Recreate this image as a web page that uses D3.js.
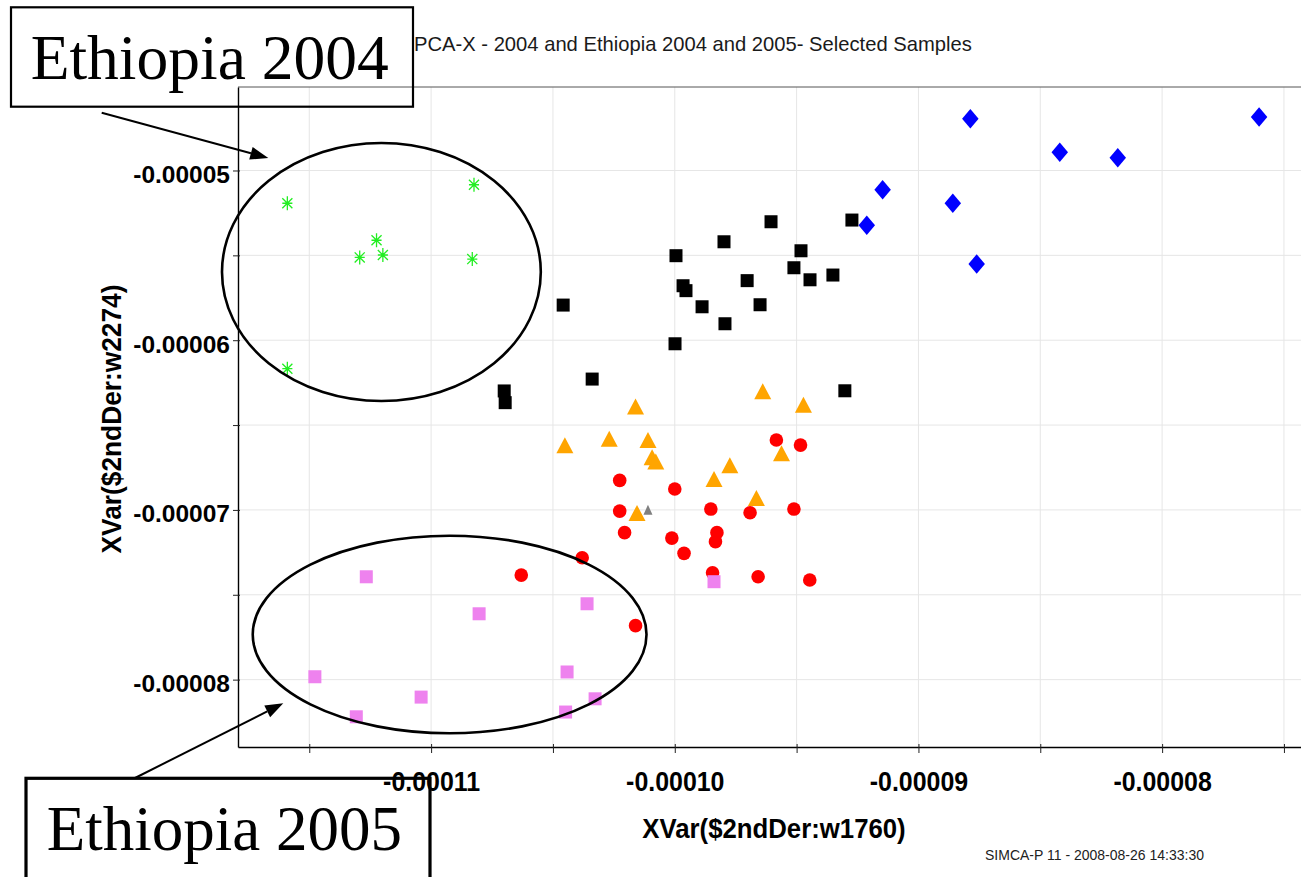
<!DOCTYPE html>
<html>
<head>
<meta charset="utf-8">
<script src="https://cdn.jsdelivr.net/npm/d3@7/dist/d3.min.js"></script>
<style>
  html, body { margin: 0; padding: 0; background: #fff; }
  svg { display: block; }
</style>
</head>
<body>
<svg id="chart" width="1301" height="877"></svg>
<script>
// ---- Sample scores: XVar($2ndDer:w1760) vs XVar($2ndDer:w2274) ----
// Ethiopia 2004 samples (green asterisks)
const eth2004X = [-0.00011590, -0.00010824, -0.00011224, -0.00011293, -0.00011198, -0.00010831, -0.00011590];
const eth2004Y = [-0.00005193, -0.00005084, -0.00005411, -0.00005512, -0.00005498, -0.00005522, -0.00006168];

// Ethiopia 2005 samples (violet squares)
const eth2005X = [-0.00011266, -0.00010803, -0.00010360, -0.00011477, -0.00011041, -0.00011307, -0.00010442, -0.00010327, -0.00010448, -0.00009839];
const eth2005Y = [-0.00007394, -0.00007612, -0.00007553, -0.00007983, -0.00008103, -0.00008219, -0.00007955, -0.00008113, -0.00008191, -0.00007423];

// Black square group
const squareGroupX = [-0.00010700, -0.00010696, -0.00010458, -0.00010339, -0.00009995, -0.00009798, -0.00009605, -0.00009273, -0.00009482, -0.00009511,
                      -0.00009445, -0.00009351, -0.00009703, -0.00009966, -0.00009954, -0.00009888, -0.00009650, -0.00009794, -0.00009999, -0.00009302];
const squareGroupY = [-0.00006299, -0.00006368, -0.00005793, -0.00006229, -0.00005502, -0.00005420, -0.00005302, -0.00005292, -0.00005473, -0.00005573,
                      -0.00005644, -0.00005616, -0.00005649, -0.00005679, -0.00005708, -0.00005803, -0.00005791, -0.00005903, -0.00006021, -0.00006298];

// Blue diamond group
const diamondGroupX = [-0.00008787, -0.00007602, -0.00008420, -0.00008182, -0.00009147, -0.00008859, -0.00009212, -0.00008761];
const diamondGroupY = [-0.00004695, -0.00004685, -0.00004893, -0.00004925, -0.00005113, -0.00005193, -0.00005323, -0.00005551];

// Orange triangle group
const triangleGroupX = [-0.00009639, -0.00009472, -0.00010161, -0.00010451, -0.00010269, -0.00010110, -0.00010093, -0.00010078, -0.00009562, -0.00009774,
                        -0.00009839, -0.00009665, -0.00010155];
const triangleGroupY = [-0.00006301, -0.00006380, -0.00006390, -0.00006619, -0.00006580, -0.00006588, -0.00006690, -0.00006714, -0.00006666, -0.00006737,
                        -0.00006818, -0.00006930, -0.00007018];

// Red circle group
const circleGroupX = [-0.00009583, -0.00009484, -0.00010226, -0.00010000, -0.00010226, -0.00009852, -0.00009691, -0.00009511, -0.00010206, -0.00010012,
                      -0.00009827, -0.00009833, -0.00009962, -0.00010380, -0.00010630, -0.00009845, -0.00009658, -0.00009446, -0.00010161];
const circleGroupY = [-0.00006588, -0.00006618, -0.00006826, -0.00006877, -0.00007007, -0.00006995, -0.00007017, -0.00006995, -0.00007134, -0.00007166,
                      -0.00007134, -0.00007187, -0.00007256, -0.00007282, -0.00007384, -0.00007370, -0.00007394, -0.00007413, -0.00007682];

// Single grey triangle
const greyPointX = [-0.00010110];
const greyPointY = [-0.00006999];

// Axis extents and labelled ticks
const xExtent = [-0.000117925, -0.0000743];
const yExtent = [-0.00008397, -0.00004508];
const xTickValues = [-0.00011, -0.00010, -0.00009, -0.00008];
const xTickLabels = ["-0.00011", "-0.00010", "-0.00009", "-0.00008"];
const yTickValues = [-0.00005, -0.00006, -0.00007, -0.00008];
const yTickLabels = ["-0.00005", "-0.00006", "-0.00007", "-0.00008"];
const gridStep = 0.000005;

// Group outlines (centre and half-axes in data units)
const outlines = [
  { cx: -0.00011204, cy: -0.00005598, rx: 0.000006542, ry: 0.000007602 },
  { cx: -0.00010924, cy: -0.00007734, rx: 0.000008080, ry: 0.000005822 }
];

// ---- Layout ----
const svg = d3.select("#chart");
const plot = { left: 238, top: 87, right: 1301, bottom: 747 };
const sans = "'Liberation Sans', Arial, Helvetica, sans-serif";
const serif = "'Liberation Serif', 'Times New Roman', serif";

const x = d3.scaleLinear().domain(xExtent).range([plot.left, plot.right]);
const y = d3.scaleLinear().domain(yExtent).range([plot.bottom, plot.top]);

const stepTicks = ext => d3.range(Math.ceil(ext[0] / gridStep - 1e-9), Math.floor(ext[1] / gridStep + 1e-9) + 1).map(k => k * gridStep);
const xGrid = stepTicks(xExtent);
const yGrid = stepTicks(yExtent);
const labelFor = (vals, labels) => d => {
  const i = vals.findIndex(v => Math.abs(v - d) < 1e-10);
  return i >= 0 ? labels[i] : "";
};

svg.append("rect").attr("width", 1301).attr("height", 877).attr("fill", "#fff");

// Title
svg.append("text")
  .attr("x", 414).attr("y", 51)
  .attr("font-family", sans).attr("font-size", 20.2).attr("fill", "#1a1a1a")
  .text("PCA-X - 2004 and Ethiopia 2004 and 2005- Selected Samples");

// Grid
const grid = svg.append("g").attr("stroke", "#e6e6e6").attr("stroke-width", 1);
grid.selectAll("line.v").data(xGrid).join("line").attr("class", "v")
  .attr("x1", d => x(d)).attr("x2", d => x(d)).attr("y1", plot.top).attr("y2", plot.bottom);
grid.selectAll("line.h").data(yGrid).join("line").attr("class", "h")
  .attr("x1", plot.left).attr("x2", plot.right).attr("y1", d => y(d)).attr("y2", d => y(d));

// Top frame line
svg.append("line").attr("x1", plot.left).attr("x2", plot.right).attr("y1", plot.top).attr("y2", plot.top)
  .attr("stroke", "#555").attr("stroke-width", 1);

// X axis
const gx = svg.append("g").attr("transform", `translate(0,${plot.bottom})`)
  .call(d3.axisBottom(x).tickValues(xGrid).tickSize(6).tickSizeOuter(0).tickFormat(labelFor(xTickValues, xTickLabels)));
gx.select(".domain").attr("stroke", "#000").attr("stroke-width", 1.4);
gx.selectAll(".tick line").attr("y1", -3).attr("y2", 6).attr("stroke", "#222");
gx.selectAll(".tick text")
  .attr("y", 44).attr("dy", 0)
  .attr("transform", "scale(0.89,1)")
  .attr("font-family", sans).attr("font-weight", "bold").attr("font-size", 28).attr("fill", "#000");

// Y axis
const gy = svg.append("g").attr("transform", `translate(${plot.left},0)`)
  .call(d3.axisLeft(y).tickValues(yGrid).tickSize(5).tickSizeOuter(0).tickFormat(labelFor(yTickValues, yTickLabels)));
gy.select(".domain").attr("stroke", "#000").attr("stroke-width", 1.4);
gy.selectAll(".tick line").attr("x1", 2).attr("x2", -5).attr("stroke", "#222");
gy.selectAll(".tick text")
  .attr("x", -8).attr("dy", 0).attr("y", 12)
  .attr("font-family", sans).attr("font-weight", "bold").attr("font-size", 24.5).attr("fill", "#000");

// Axis titles
svg.append("text")
  .attr("transform", "translate(774,838) scale(0.92,1)")
  .attr("text-anchor", "middle")
  .attr("font-family", sans).attr("font-weight", "bold").attr("font-size", 28).attr("fill", "#000")
  .text("XVar($2ndDer:w1760)");
svg.append("text")
  .attr("transform", "translate(121,419) rotate(-90) scale(0.94,1)")
  .attr("text-anchor", "middle")
  .attr("font-family", sans).attr("font-weight", "bold").attr("font-size", 28).attr("fill", "#000")
  .text("XVar($2ndDer:w2274)");

// Footer
svg.append("text")
  .attr("x", 985).attr("y", 859.5)
  .attr("font-family", sans).attr("font-size", 14).attr("fill", "#222")
  .text("SIMCA-P 11 - 2008-08-26 14:33:30");

// ---- Points ----
const zip = (xs, ys) => xs.map((v, i) => ({ x: v, y: ys[i] }));
const marks = svg.append("g");

function squares(data, color, side) {
  marks.append("g").selectAll("rect").data(data).join("rect")
    .attr("x", d => x(d.x) - side / 2).attr("y", d => y(d.y) - side / 2)
    .attr("width", side).attr("height", side).attr("fill", color);
}
function circles(data, color, r) {
  marks.append("g").selectAll("circle").data(data).join("circle")
    .attr("cx", d => x(d.x)).attr("cy", d => y(d.y)).attr("r", r).attr("fill", color);
}
function triangles(data, color, w, h) {
  marks.append("g").selectAll("path").data(data).join("path")
    .attr("d", d => {
      const cx = x(d.x), cy = y(d.y);
      return `M${cx},${cy - h / 2}L${cx + w / 2},${cy + h / 2}L${cx - w / 2},${cy + h / 2}Z`;
    })
    .attr("fill", color);
}
function diamonds(data, color, w, h) {
  marks.append("g").selectAll("path").data(data).join("path")
    .attr("d", d => {
      const cx = x(d.x), cy = y(d.y);
      return `M${cx},${cy - h / 2}L${cx + w / 2},${cy}L${cx},${cy + h / 2}L${cx - w / 2},${cy}Z`;
    })
    .attr("fill", color);
}
function asterisks(data, color, s) {
  marks.append("g").selectAll("path").data(data).join("path")
    .attr("d", d => {
      const cx = x(d.x), cy = y(d.y), a = s / 2, b = s * 0.36;
      return `M${cx},${cy - a}V${cy + a}M${cx - b},${cy}H${cx + b}` +
             `M${cx - b},${cy - b}L${cx + b},${cy + b}M${cx - b},${cy + b}L${cx + b},${cy - b}`;
    })
    .attr("stroke", color).attr("stroke-width", 1.3).attr("fill", "none");
}

squares(zip(squareGroupX, squareGroupY), "#000000", 13);
diamonds(zip(diamondGroupX, diamondGroupY), "#0000ff", 16.5, 19.5);
circles(zip(circleGroupX, circleGroupY), "#ff0000", 6.8);
triangles(zip(triangleGroupX, triangleGroupY), "#ffa500", 17, 16);
squares(zip(eth2005X, eth2005Y), "#ee82ee", 13);
asterisks(zip(eth2004X, eth2004Y), "#22ee22", 14);
triangles(zip(greyPointX, greyPointY), "#808080", 9, 10);

// ---- Annotations ----
const ann = svg.append("g").attr("fill", "none").attr("stroke", "#000");
ann.selectAll("ellipse").data(outlines).join("ellipse")
  .attr("cx", d => x(d.cx)).attr("cy", d => y(d.cy))
  .attr("rx", d => x(d.cx + d.rx) - x(d.cx)).attr("ry", d => y(d.cy) - y(d.cy + d.ry))
  .attr("stroke-width", 2.6);

function arrow(x1, y1, x2, y2, len, wid) {
  const ang = Math.atan2(y2 - y1, x2 - x1);
  const bx = x2 - len * Math.cos(ang), by = y2 - len * Math.sin(ang);
  const px = -Math.sin(ang) * wid / 2, py = Math.cos(ang) * wid / 2;
  svg.append("line").attr("x1", x1).attr("y1", y1).attr("x2", bx).attr("y2", by)
    .attr("stroke", "#000").attr("stroke-width", 2);
  svg.append("path")
    .attr("d", `M${x2},${y2}L${bx + px},${by + py}L${bx - px},${by - py}Z`)
    .attr("fill", "#000");
}
arrow(101.7, 112.7, 268.3, 158, 18, 13);
arrow(135, 778, 283.3, 703.3, 18, 13);

// Callout boxes
svg.append("rect").attr("x", 11).attr("y", 7.3).attr("width", 402).attr("height", 99.4)
  .attr("fill", "none").attr("stroke", "#000").attr("stroke-width", 2.2);
svg.append("text").attr("x", 30.7).attr("y", 79)
  .attr("font-family", serif).attr("font-size", 63.5).attr("fill", "#000")
  .text("Ethiopia 2004");

svg.append("rect").attr("x", 26).attr("y", 778.3).attr("width", 404).attr("height", 140)
  .attr("fill", "none").attr("stroke", "#000").attr("stroke-width", 3.2);
svg.append("text").attr("x", 46.7).attr("y", 850)
  .attr("font-family", serif).attr("font-size", 63).attr("fill", "#000")
  .text("Ethiopia 2005");
</script>
</body>
</html>
